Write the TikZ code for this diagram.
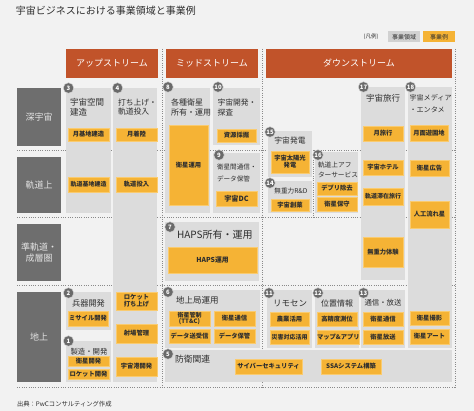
\documentclass[tikz,border=0pt]{standalone}
\usepackage{fontspec}
\setmainfont{Noto Sans CJK JP}
\definecolor{bg}{HTML}{F2F2F2}
\definecolor{boxgray}{HTML}{DCDCDC}
\definecolor{rowgray}{HTML}{6E6E6E}
\definecolor{rowtext}{HTML}{E2E2E2}
\definecolor{hdr}{HTML}{C1532A}
\definecolor{orng}{HTML}{F5B335}
\definecolor{orngb}{HTML}{F9CB70}
\definecolor{dotc}{HTML}{8A8A8A}
\definecolor{txt}{HTML}{2E2E2E}
\definecolor{badgec}{HTML}{6A6A6A}
\tikzset{
  gbox/.style={rectangle,fill=boxgray,inner sep=0pt,outer sep=0pt,anchor=north west},
  obox/.style={rectangle,fill=orng,draw=orngb,line width=0.7pt,inner sep=0pt,outer sep=0pt,anchor=north west,align=center,text=txt,font=\fontsize{6.3}{7.2}\selectfont\bfseries},
  rowbox/.style={rectangle,fill=rowgray,inner sep=0pt,outer sep=0pt,anchor=north west,align=center,text=rowtext,font=\fontsize{9}{11}\selectfont},
  hdrbox/.style={rectangle,fill=hdr,inner sep=0pt,outer sep=0pt,anchor=north west,text=white,font=\fontsize{9}{11}\selectfont},
  badge/.style={circle,fill=badgec,draw=white!85!black,line width=0.4pt,inner sep=0pt,minimum size=10.5pt,text=white,font=\fontsize{6}{6}\selectfont\bfseries},
  ttl/.style={inner sep=0pt,outer sep=0pt,align=left,text=txt,font=\fontsize{8.5}{9.5}\selectfont},
  dotl/.style={dotc,line width=0.9pt,dash pattern=on 0.9pt off 1.4pt},
}
\begin{document}
\begin{tikzpicture}[x=1pt,y=-1pt]
\fill[bg] (0,0) rectangle (474,411);
\useasboundingbox (0,0) rectangle (474,411);

% title and legend
\node[ttl,anchor=west,font=\fontsize{10}{12}\selectfont] (title) at (16,11) {宇宙ビジネスにおける事業領域と事業例};
\node[ttl,anchor=center,font=\fontsize{5.5}{6}\selectfont] (legend) at (371,37) {(凡例)};
\node[gbox,fill=boxgray!95!black,minimum width=32pt,minimum height=11pt,text=txt,font=\fontsize{6}{7}\selectfont] (lgA) at (388,31.5) {事業領域};
\node[obox,draw=none,minimum width=32pt,minimum height=11pt,font=\fontsize{6}{7}\selectfont] (lgB) at (423,31.5) {事業例};

% dotted separators
\draw[dotl] (162.5,49) -- (162.5,387.5);
\draw[dotl] (262.5,49) -- (262.5,387.5);
\draw[dotl] (455,49) -- (455,387.5);
\draw[dotl] (17,150.5) -- (455,150.5);
\draw[dotl] (17,217.5) -- (455,217.5);
\draw[dotl] (17,285.5) -- (455,285.5);
\draw[dotl] (17,387.5) -- (455,387.5);
\draw[dotl] (313,150.5) -- (313,217.5);

% headers
\node[hdrbox,minimum width=92pt,minimum height=29pt] (hU) at (66,49) {アップストリーム};
\node[hdrbox,minimum width=92pt,minimum height=29pt] (hM) at (166,49) {ミッドストリーム};
\node[hdrbox,minimum width=186pt,minimum height=29pt] (hD) at (266,49) {ダウンストリーム};

% row labels
\node[rowbox,minimum width=44pt,minimum height=58pt] (rDeep) at (17,88) {深宇宙};
\node[rowbox,minimum width=44pt,minimum height=56pt] (rOrb) at (17,157) {軌道上};
\node[rowbox,minimum width=44pt,minimum height=57pt] (rSub) at (17,224) {準軌道・\\成層圏};
\node[rowbox,minimum width=44pt,minimum height=90pt] (rGnd) at (17,292) {地上};

% gray area boxes
\node[gbox,minimum width=45pt,minimum height=125pt] (c3) at (66,88) {};
\node[gbox,minimum width=44pt,minimum height=294pt] (c4) at (113,88) {};
\node[gbox,minimum width=45pt,minimum height=38pt] (c2) at (66,292) {};
\node[gbox,minimum width=45pt,minimum height=41pt] (c1) at (66,341) {};
\node[gbox,minimum width=45pt,minimum height=125pt] (c8) at (165,88) {};
\node[gbox,minimum width=47pt,minimum height=57pt] (c10) at (213,88) {};
\node[gbox,minimum width=47pt,minimum height=60pt] (c9) at (213,153) {};
\node[gbox,minimum width=94pt,minimum height=59pt] (c7) at (165,222) {};
\node[gbox,minimum width=95pt,minimum height=58pt] (c6) at (165,290) {};
\node[gbox,minimum width=287pt,minimum height=32pt] (c5) at (165,350) {};
\node[gbox,minimum width=44pt,minimum height=46pt] (c15) at (268,131) {};
\node[gbox,minimum width=44pt,minimum height=32pt] (c14) at (268,181) {};
\node[gbox,minimum width=43pt,minimum height=61pt] (c16) at (315,152) {};
\node[gbox,minimum width=44pt,minimum height=193pt] (c17) at (361,87) {};
\node[gbox,minimum width=44pt,minimum height=261pt] (c18) at (408,87) {};
\node[gbox,minimum width=45pt,minimum height=58pt] (c11) at (267,290) {};
\node[gbox,minimum width=44pt,minimum height=58pt] (c12) at (315,290) {};
\node[gbox,minimum width=44pt,minimum height=58pt] (c13) at (361,290) {};

% titles
\node[ttl,anchor=north west] (t3) at (70,98.5) {宇宙空間\\建造};
\node[ttl,anchor=north west,font=\fontsize{7.8}{9.5}\selectfont] (t4) at (118,98.5) {打ち上げ・\\軌道投入};
\node[ttl,anchor=center,font=\fontsize{8.2}{9}\selectfont] (t2) at (88.5,303) {兵器開発};
\node[ttl,anchor=center,font=\fontsize{7.4}{9}\selectfont] (t1) at (89,352) {製造・開発};
\node[ttl,anchor=north west,font=\fontsize{8}{10}\selectfont] (t8) at (171,99) {各種衛星\\所有・運用};
\node[ttl,anchor=north west,font=\fontsize{7.8}{10}\selectfont] (t10) at (217.5,99) {宇宙開発・\\探査};
\node[ttl,anchor=north west,font=\fontsize{6.6}{11.5}\selectfont] (t9) at (217,164) {衛星間通信・\\データ保管};
\node[ttl,anchor=west,font=\fontsize{10}{12}\selectfont] (t7) at (177,235) {HAPS所有・運用};
\node[ttl,anchor=west] (t6) at (176,300) {地上局運用};
\node[ttl,anchor=west,font=\fontsize{8.8}{10}\selectfont] (t5) at (175,359) {防衛関連};
\node[ttl,anchor=center,font=\fontsize{7.8}{9}\selectfont] (t15) at (290,141) {宇宙発電};
\node[ttl,anchor=center,font=\fontsize{6.6}{8}\selectfont] (t14) at (291,191) {無重力R\&D};
\node[ttl,anchor=north west,font=\fontsize{6.7}{10}\selectfont] (t16) at (318,161.5) {軌道上アフ\\ターサービス};
\node[ttl,anchor=center] (t17) at (383,98) {宇宙旅行};
\node[ttl,anchor=north west,font=\fontsize{7.1}{11.5}\selectfont] (t18) at (409.5,94.5) {宇宙メディア\\・エンタメ};
\node[ttl,anchor=west] (t11) at (273,303) {リモセン};
\node[ttl,anchor=center,font=\fontsize{8}{9}\selectfont] (t12) at (337,303) {位置情報};
\node[ttl,anchor=center,font=\fontsize{7.4}{9}\selectfont] (t13) at (383,303) {通信・放送};

% example boxes
\node[obox,minimum width=41pt,minimum height=13pt] (o3a) at (68,128) {月基地建造};
\node[obox,minimum width=41pt,minimum height=15pt,font=\fontsize{6}{7}\selectfont\bfseries] (o3b) at (68,177) {軌道基地建造};
\node[obox,minimum width=41pt,minimum height=13pt] (o4a) at (116,128) {月着陸};
\node[obox,minimum width=41pt,minimum height=15pt] (o4b) at (116,177) {軌道投入};
\node[obox,minimum width=41pt,minimum height=18pt] (o4c) at (116,292) {ロケット\\打ち上げ};
\node[obox,minimum width=41pt,minimum height=19pt] (o4d) at (116,324) {射場管理};
\node[obox,minimum width=41pt,minimum height=19pt] (o4e) at (116,357) {宇宙港開発};
\node[obox,minimum width=40pt,minimum height=15pt] (o2a) at (68,311) {ミサイル開発};
\node[obox,minimum width=41pt,minimum height=10pt] (o1a) at (68,356) {衛星開発};
\node[obox,minimum width=41pt,minimum height=10pt] (o1b) at (68,369) {ロケット開発};
\node[obox,minimum width=39pt,minimum height=80pt] (o8) at (169,125) {衛星運用};
\node[obox,minimum width=39pt,minimum height=13pt] (o10) at (217,129) {資源採掘};
\node[obox,minimum width=41pt,minimum height=15pt,font=\fontsize{7.2}{8}\selectfont\bfseries] (o9) at (216,191) {宇宙DC};
\node[obox,minimum width=89pt,minimum height=26pt,font=\fontsize{6.8}{8}\selectfont\bfseries] (o7) at (168,247) {HAPS運用};
\node[obox,minimum width=41pt,minimum height=15pt,font=\fontsize{6}{6}\selectfont\bfseries] (o6a) at (169,311) {衛星管制\\(TT\&C)};
\node[obox,minimum width=41pt,minimum height=15pt] (o6b) at (214,311) {衛星通信};
\node[obox,minimum width=41pt,minimum height=14pt] (o6c) at (169,329) {データ送受信};
\node[obox,minimum width=41pt,minimum height=14pt] (o6d) at (214,329) {データ保管};
\node[obox,minimum width=67pt,minimum height=15pt] (o5a) at (235,359) {サイバーセキュリティ};
\node[obox,minimum width=60pt,minimum height=15pt] (o5b) at (321,359) {SSAシステム構築};
\node[obox,minimum width=38pt,minimum height=22pt] (o15) at (271,151) {宇宙太陽光\\発電};
\node[obox,minimum width=38pt,minimum height=12pt] (o14) at (271,199) {宇宙創薬};
\node[obox,minimum width=40pt,minimum height=13pt] (o16a) at (317,182) {デブリ除去};
\node[obox,minimum width=40pt,minimum height=14pt] (o16b) at (317,197) {衛星保守};
\node[obox,minimum width=40pt,minimum height=15pt] (o17a) at (363,126) {月旅行};
\node[obox,minimum width=40pt,minimum height=15pt] (o17b) at (363,160) {宇宙ホテル};
\node[obox,minimum width=40pt,minimum height=17pt,font=\fontsize{6}{7}\selectfont\bfseries] (o17c) at (363,188) {軌道滞在旅行};
\node[obox,minimum width=40pt,minimum height=30pt] (o17d) at (363,237) {無重力体験};
\node[obox,minimum width=38pt,minimum height=16pt] (o18a) at (410,125) {月面遊園地};
\node[obox,minimum width=39pt,minimum height=16pt] (o18b) at (410,160) {衛星広告};
\node[obox,minimum width=39pt,minimum height=27pt] (o18c) at (410,201) {人工流れ星};
\node[obox,minimum width=39pt,minimum height=14pt] (o18d) at (410,311) {衛星撮影};
\node[obox,minimum width=39pt,minimum height=15pt] (o18e) at (410,329) {衛星アート};
\node[obox,minimum width=39pt,minimum height=14pt] (o11a) at (270,312) {農業活用};
\node[obox,minimum width=39pt,minimum height=14pt,font=\fontsize{6}{7}\selectfont\bfseries] (o11b) at (270,330) {災害対応活用};
\node[obox,minimum width=40pt,minimum height=14pt] (o12a) at (317,312) {高精度測位};
\node[obox,minimum width=40pt,minimum height=14pt] (o12b) at (317,330) {マップ\&アプリ};
\node[obox,minimum width=40pt,minimum height=14pt] (o13a) at (363,312) {衛星通信};
\node[obox,minimum width=40pt,minimum height=14pt] (o13b) at (363,330) {衛星放送};

% badges
\node[badge] (b3) at (68.5,88) {3};
\node[badge] (b4) at (117.5,88) {4};
\node[badge] (b2) at (68.5,293) {2};
\node[badge] (b1) at (68.5,341) {1};
\node[badge] (b8) at (168,87) {8};
\node[badge] (b10) at (218,87) {10};
\node[badge] (b9) at (219,155) {9};
\node[badge] (b7) at (170,227) {7};
\node[badge] (b6) at (168,292) {6};
\node[badge] (b5) at (168,354) {5};
\node[badge] (b15) at (270,132) {15};
\node[badge] (b14) at (270,183) {14};
\node[badge] (b16) at (318,155) {16};
\node[badge] (b17) at (363.5,87) {17};
\node[badge] (b18) at (410.5,87) {18};
\node[badge] (b11) at (269,293) {11};
\node[badge] (b12) at (318,293) {12};
\node[badge] (b13) at (363.5,293) {13};

% source
\node[ttl,anchor=west,font=\fontsize{6.3}{7}\selectfont] (src) at (17,404) {出典：PwCコンサルティング作成};
\end{tikzpicture}
\end{document}
